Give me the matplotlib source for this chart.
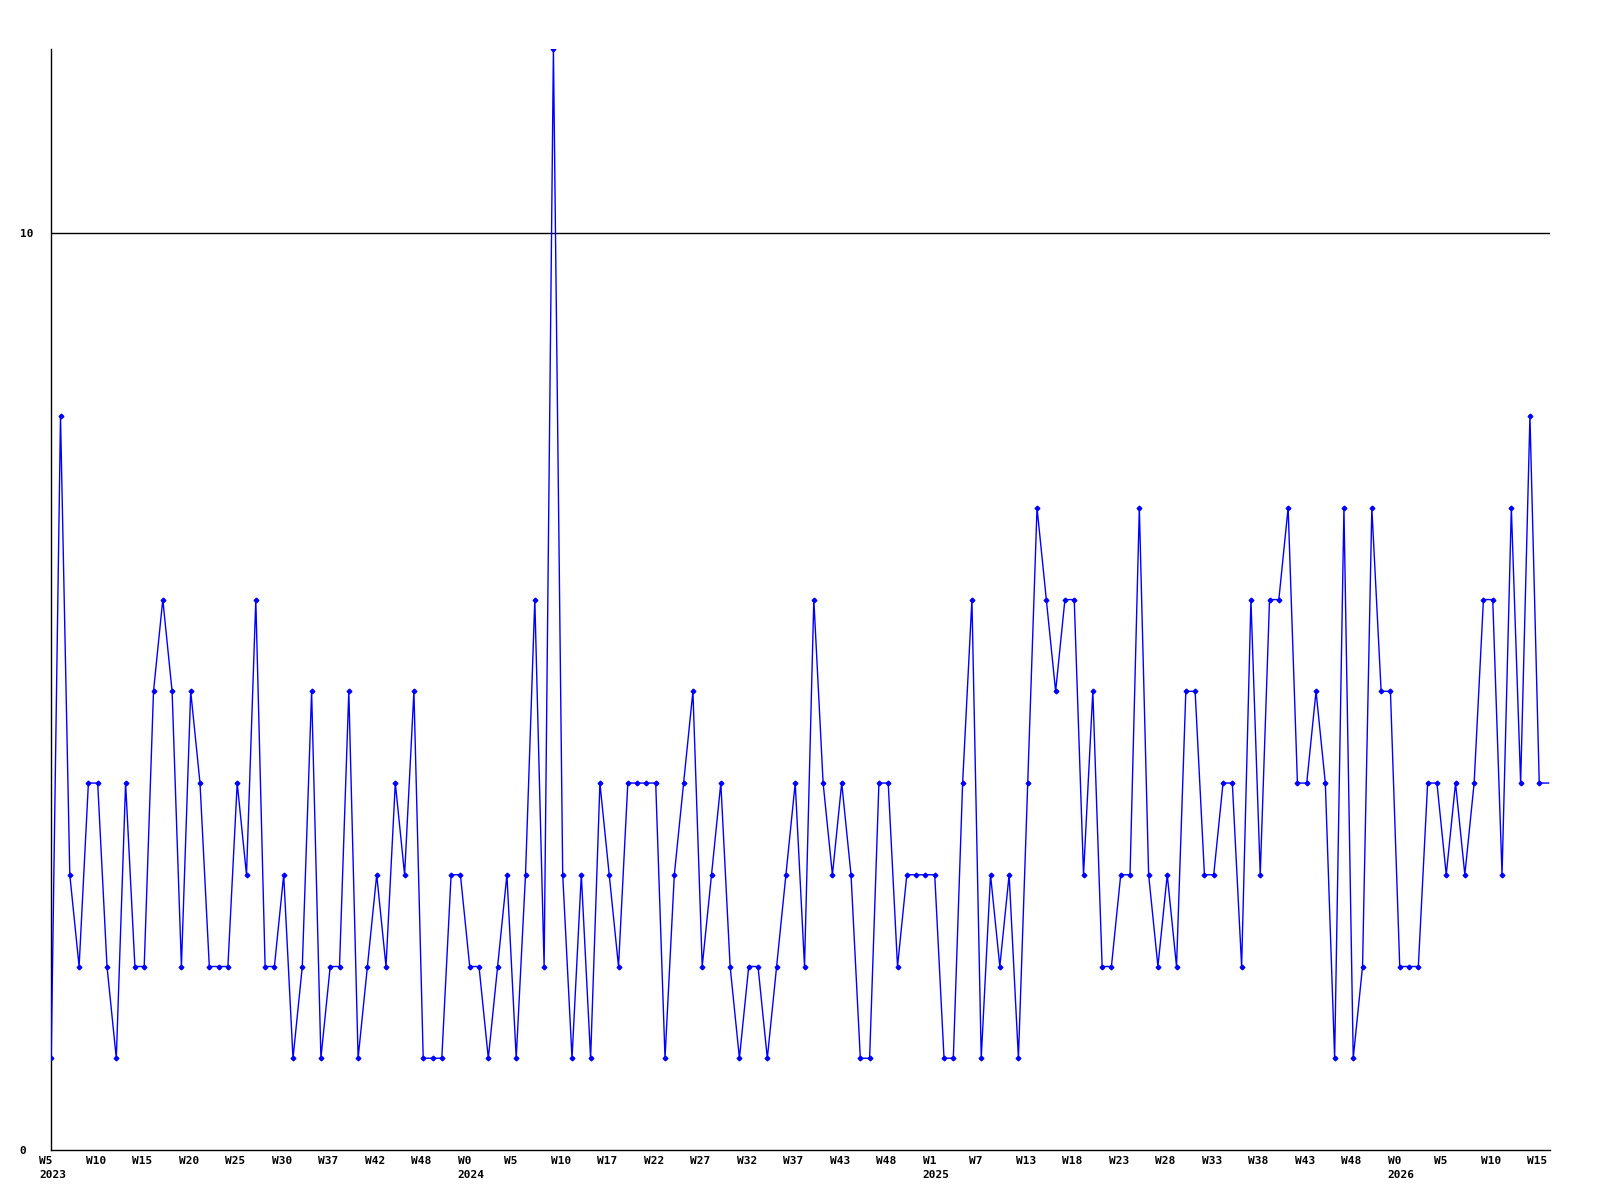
import matplotlib
matplotlib.use("Agg")
import matplotlib.pyplot as plt
from matplotlib.transforms import ScaledTranslation

# weekly counts (last value is the open week, drawn without marker)
values = [
    1, 8, 3, 2, 4, 4, 2, 1, 4, 2,
    2, 5, 6, 5, 2, 5, 4, 2, 2, 2,
    4, 3, 6, 2, 2, 3, 1, 2, 5, 1,
    2, 2, 5, 1, 2, 3, 2, 4, 3, 5,
    1, 1, 1, 3, 3, 2, 2, 1, 2, 3,
    1, 3, 6, 2, 12, 3, 1, 3, 1, 4,
    3, 2, 4, 4, 4, 4, 1, 3, 4, 5,
    2, 3, 4, 2, 1, 2, 2, 1, 2, 3,
    4, 2, 6, 4, 3, 4, 3, 1, 1, 4,
    4, 2, 3, 3, 3, 3, 1, 1, 4, 6,
    1, 3, 2, 3, 1, 4, 7, 6, 5, 6,
    6, 3, 5, 2, 2, 3, 3, 7, 3, 2,
    3, 2, 5, 5, 3, 3, 4, 4, 2, 6,
    3, 6, 6, 7, 4, 4, 5, 4, 1, 7,
    1, 2, 7, 5, 5, 2, 2, 2, 4, 4,
    3, 4, 3, 4, 6, 6, 3, 7, 4, 8,
    4, 4,
]

week_labels = ["W5", "W10", "W15", "W20", "W25", "W30", "W37", "W42", "W48",
               "W0", "W5", "W10", "W17", "W22", "W27", "W32", "W37", "W43", "W48",
               "W1", "W7", "W13", "W18", "W23", "W28", "W33", "W38", "W43", "W48",
               "W0", "W5", "W10", "W15"]
year_labels = {0: "2023", 9: "2024", 19: "2025", 29: "2026"}
label_step = 5

y_ticks = [0, 10]

font = dict(family="DejaVu Sans Mono", weight="bold", size=8)

fig = plt.figure(figsize=(16, 12), dpi=100)
ax = fig.add_axes([0.032, 0.0417, 0.937, 0.9173])

x = list(range(len(values)))
ax.plot(x, values, color="#0000ff", linewidth=1.0, marker="D", markersize=2.4,
        markevery=list(range(len(values) - 1)), zorder=3)

ax.set_xlim(0, len(values) - 0.8)
ax.set_ylim(0, 12)

# axis frame: only left and bottom
for side in ("top", "right"):
    ax.spines[side].set_visible(False)
for side in ("left", "bottom"):
    ax.spines[side].set_color("black")
    ax.spines[side].set_linewidth(1.0)

# y ticks + line at 10
ax.set_yticks(y_ticks)
ax.set_yticklabels([str(v) for v in y_ticks], fontdict=font)
ax.tick_params(axis="y", length=0, pad=22.8)
for lab in ax.get_yticklabels():
    lab.set_horizontalalignment("left")
ax.axhline(10, color="black", linewidth=1.0, zorder=1)

# x ticks: week labels every 5 points, year under first week of each year
tick_pos = [i * label_step for i in range(len(week_labels))]
tick_text = [w + ("\n" + year_labels[i] if i in year_labels else "")
             for i, w in enumerate(week_labels)]
ax.set_xticks(tick_pos)
ax.set_xticklabels(tick_text, fontdict=font, linespacing=1.5)
ax.tick_params(axis="x", length=0, pad=4)
shift = ScaledTranslation(-12 / 100, 0, fig.dpi_scale_trans)
for lab in ax.get_xticklabels():
    lab.set_horizontalalignment("left")
    lab.set_verticalalignment("top")
    lab.set_multialignment("left")
    lab.set_transform(lab.get_transform() + shift)

plt.savefig("out.png", dpi=100)
